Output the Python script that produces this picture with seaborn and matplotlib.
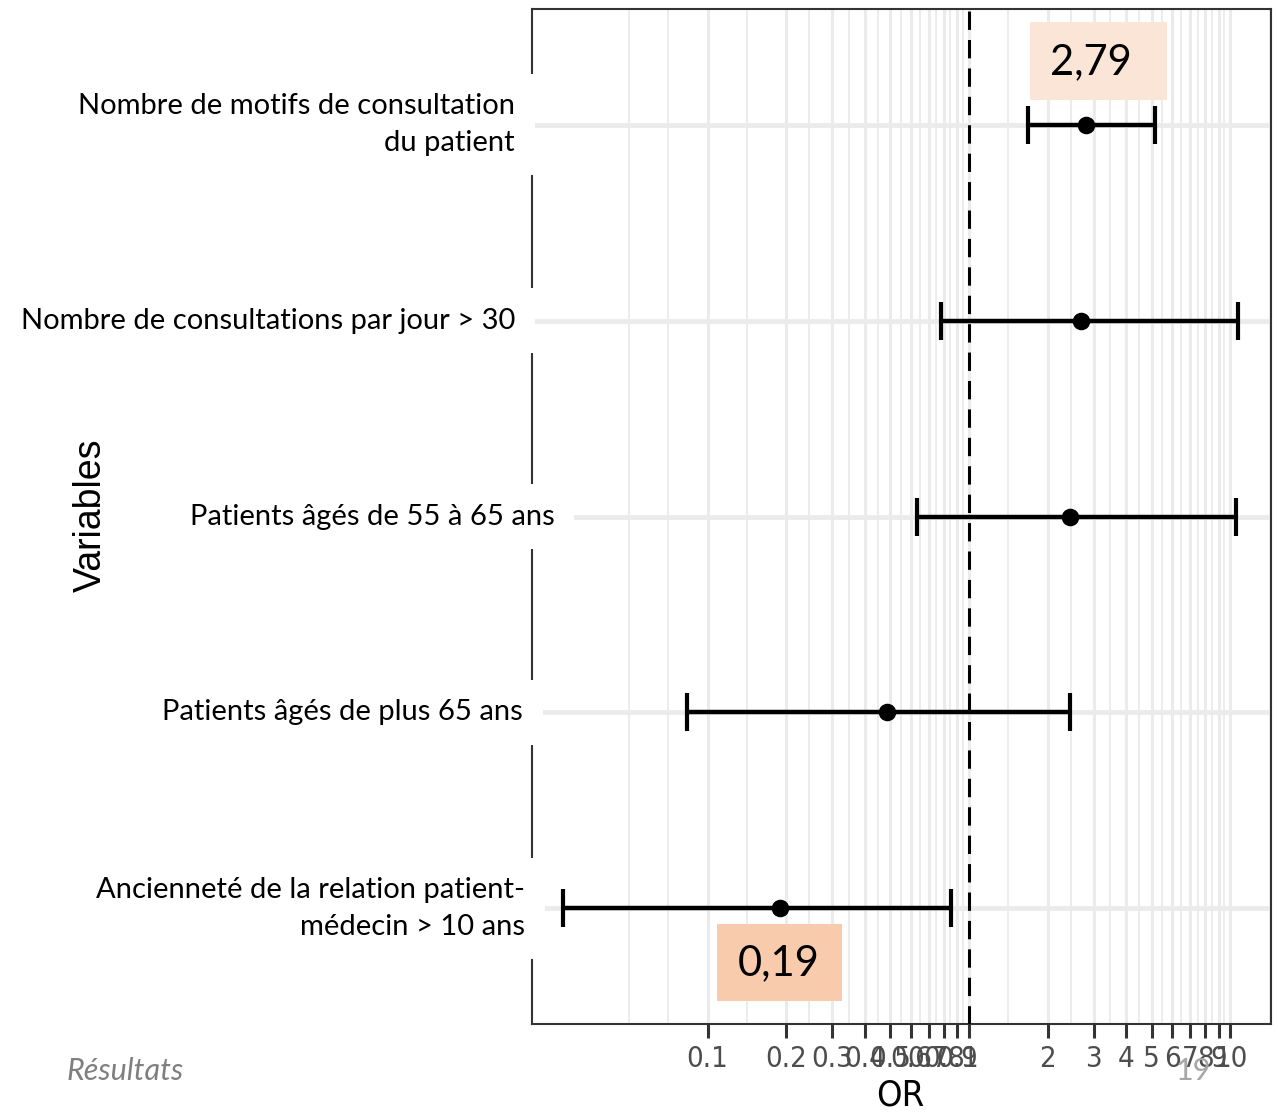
import numpy as np
import pandas as pd
import matplotlib
matplotlib.use("Agg")
from matplotlib import pyplot as plt
from matplotlib.patches import Rectangle
from matplotlib.ticker import FixedLocator, NullFormatter
import seaborn as sns

# forest plot data (odds ratios, 95% CI)
variables = ["Nombre de motifs de consultation\ndu patient",
             "Nombre de consultations par jour > 30",
             "Patients âgés de 55 à 65 ans",
             "Patients âgés de plus 65 ans",
             "Ancienneté de la relation patient-\nmédecin > 10 ans"]
odds_ratio = [2.79, 2.68, 2.43, 0.486, 0.19]
ci_low = [1.68, 0.78, 0.63, 0.0835, 0.028]
ci_high = [5.14, 10.7, 10.5, 2.43, 0.853]

tick_values = [0.1, 0.2, 0.3, 0.4, 0.5, 0.6, 0.7, 0.8, 0.9, 1,
               2, 3, 4, 5, 6, 7, 8, 9, 10]
tick_labels = ["0.1", "0.2", "0.3", "0.4", "0.5", "0.6", "0.7", "0.8", "0.9", "1",
               "2", "3", "4", "5", "6", "7", "8", "9", "10"]

highlight_texts = ["2,79", "0,19"]

sns.set_theme(style="white")
plt.rcParams['font.family'] = ['Lato', 'DejaVu Sans']

df = pd.DataFrame({"variable": variables, "OR": odds_ratio,
                   "low": ci_low, "high": ci_high})
df["row"] = np.arange(len(df))

W, H = 1278, 1113
fig = plt.figure(figsize=(W / 100, H / 100), dpi=100)
ax = fig.add_axes([532 / W, 1 - 1024 / H, 739 / W, 1015 / H])

ax.errorbar(df["OR"], df["row"],
            xerr=[df["OR"] - df["low"], df["high"] - df["OR"]],
            fmt="none", ecolor="black", elinewidth=3.2, capsize=14,
            capthick=3.0, zorder=4)
sns.scatterplot(data=df, x="OR", y="row", color="black", s=160,
                linewidth=0, zorder=5, ax=ax)
ax.axvline(1, color="black", lw=2.2, dashes=(6, 3.3), zorder=3)

ax.set_xscale("log")
ax.set_xlim(0.0213, 14.29)
ax.set_ylim(len(df) - 1 + 0.59, -0.59)

# ggplot-like minor breaks (midpoints in log space + extension)
lb = np.log10(tick_values)
step = lb[1] - lb[0]
ext = np.concatenate([[lb[0] - step], lb, [lb[-1] + step]])
minors = list(10 ** ((ext[:-1] + ext[1:]) / 2)) + [10 ** ext[0]]

ax.set_xticks(tick_values)
ax.set_xticklabels(tick_labels)
ax.xaxis.set_minor_locator(FixedLocator(minors))
ax.xaxis.set_minor_formatter(NullFormatter())
ax.set_yticks(df["row"])
ax.set_yticklabels([])

ax.set_axisbelow(True)
ax.grid(axis="x", which="major", color="#EBEBEB", lw=2.2)
ax.grid(axis="x", which="minor", color="#EBEBEB", lw=1.3)
ax.grid(axis="y", which="major", color="#EBEBEB", lw=3.4)

ax.tick_params(axis="x", which="major", length=10, width=2.2, color="#333333",
               labelsize=21, labelcolor="#4D4D4D", pad=5, bottom=True)
ax.tick_params(axis="x", which="minor", length=0)
ax.tick_params(axis="y", length=0)
for lbl in ax.get_xticklabels():
    lbl.set_family(["DejaVu Sans"])
    lbl.set_fontstretch("condensed")

for sp in ax.spines.values():
    sp.set_visible(True)
    sp.set_color("#333333")
    sp.set_linewidth(1.5)

# row labels with white boxes over the left border
label_x = [-0.023, -0.023, 0.031, -0.012, -0.009]
for i, name in enumerate(df["variable"]):
    ax.text(label_x[i], df["row"][i], name, transform=ax.get_yaxis_transform(),
            ha="right", va="center", fontsize=21, color="black",
            linespacing=1.5, zorder=6, clip_on=False,
            bbox=dict(facecolor="white", edgecolor="none", pad=14))

ax.set_ylabel("")
ax.set_xlabel("OR", fontsize=26, color="black", family=["DejaVu Sans"],
              fontstretch="condensed")
ax.xaxis.set_label_coords(0.498, -0.054)
fig.text(91 / W, 1 - 515 / H, "Variables", rotation=90, ha="center",
         va="center", fontsize=27, color="black",
         family=["Liberation Sans", "DejaVu Sans"])

# highlighted values
fig.patches.append(Rectangle((1030 / W, 1 - 100 / H), 137 / W, 78 / H,
                             transform=fig.transFigure, facecolor="#FBE5D6",
                             edgecolor="none", zorder=1))
fig.patches.append(Rectangle((717 / W, 1 - 1001 / H), 125 / W, 77 / H,
                             transform=fig.transFigure, facecolor="#F8CBAD",
                             edgecolor="none", zorder=1))
fig.text(1091 / W, 1 - 62 / H, highlight_texts[0], ha="center", va="center",
         fontsize=30, color="black")
fig.text(779 / W, 1 - 963 / H, highlight_texts[1], ha="center", va="center",
         fontsize=30, color="black")

fig.text(67 / W, 1 - 1071 / H, "Résultats", ha="left", va="center",
         fontsize=22, style="italic", color="#7F7F7F")
fig.text(1193 / W, 1 - 1071 / H, "19", ha="center", va="center",
         fontsize=22, color="#A6A6A6")

fig.savefig("out.png", dpi=100)
